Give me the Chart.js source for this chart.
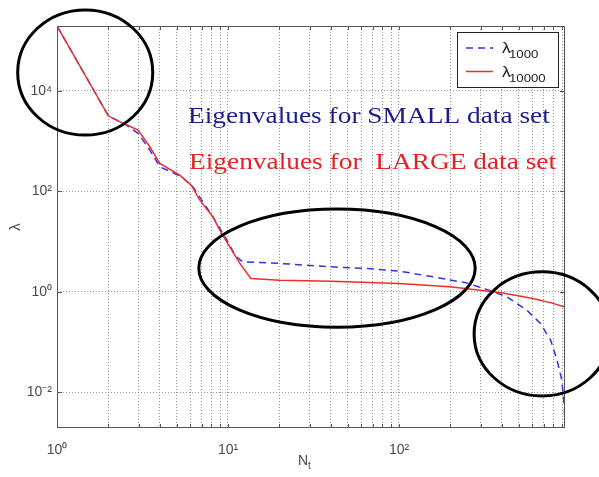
<!DOCTYPE html>
<html>
<head>
<meta charset="utf-8">
<script src="https://cdn.jsdelivr.net/npm/chart.js@4.4.0/dist/chart.umd.min.js"></script>
<style>
	html, body { margin: 0; padding: 0; background: #fff; }
	#wrap { width: 599px; height: 477px; }
</style>
</head>
<body>
<div id="wrap"><canvas id="eigChart" width="599" height="477"></canvas></div>
<script>
// eigenvalue spectra (log-log)
const xSmall = [1, 2, 2.49, 2.98, 3.49, 3.99, 4.77, 5.35, 6.23, 8.17, 9.85, 11.1, 12.2, 20.1, 39.5, 65, 101, 158, 248, 325, 427, 560, 672, 771, 840, 896, 927, 935];
const ySmall = [196000, 3160, 2190, 1430, 665, 309, 235, 195, 124, 31, 10.7, 5.1, 3.96, 3.68, 3.15, 2.92, 2.58, 1.99, 1.51, 1.12, 0.80, 0.43, 0.234, 0.109, 0.0436, 0.0174, 0.0051, 0.00195];
const xLarge = [1, 2, 2.49, 2.98, 3.49, 3.99, 5.22, 6.1, 6.84, 8.17, 8.96, 9.85, 11.7, 13.6, 20, 40, 100, 198, 389, 608, 796, 935];
const yLarge = [196000, 3160, 2190, 1660, 773, 361, 211, 133, 67, 31, 16.9, 9.8, 3.73, 1.85, 1.71, 1.63, 1.47, 1.26, 0.97, 0.74, 0.59, 0.50];

const seriesNames = [['λ', '1000'], ['λ', '10000']];
const noteLines = ['Eigenvalues for SMALL data set', 'Eigenvalues for  LARGE data set'];

const xRange = [1, 935];
const yRange = [0.00195, 196000];
const xTickValues = [1, 2, 3, 4, 5, 6, 7, 8, 9, 10, 20, 30, 40, 50, 60, 70, 80, 90, 100, 200, 300, 400, 500, 600, 700, 800, 900];
const xLabelValues = [1, 10, 100];
const xLabelText = ['10⁰', '10¹', '10²'];
const yTickValues = [0.01, 1, 100, 10000];
const yLabelText = ['10⁻²', '10⁰', '10²', '10⁴'];

const BLUE = 'rgb(50, 50, 225)';
const RED = 'rgb(240, 45, 45)';
const AXIS_GREY = '#4a4a4a';

const toPoints = (xs, ys) => xs.map((x, i) => ({ x: x, y: ys[i] }));

// the source picture is a little wider than tall, text looks stretched
function wideText(ctx, text, x, y, sx) {
	ctx.save();
	ctx.translate(x, y);
	ctx.scale(sx, 1);
	ctx.fillText(text, 0, 0);
	ctx.restore();
}

// frame, inward ticks, legend box, notes, circled regions
const decorPlugin = {
	id: 'decor',
	afterDraw(chart) {
		const ctx = chart.ctx;
		const ca = chart.chartArea;
		const xs = chart.scales.x;
		const ys = chart.scales.y;

		ctx.save();
		// frame
		ctx.strokeStyle = '#555';
		ctx.lineWidth = 1;
		ctx.strokeRect(ca.left + 0.5, ca.top + 0.5, ca.right - ca.left - 1, ca.bottom - ca.top - 1);

		// inward ticks
		ctx.beginPath();
		xTickValues.forEach(v => {
			const px = Math.round(xs.getPixelForValue(v)) + 0.5;
			ctx.moveTo(px, ca.bottom);
			ctx.lineTo(px, ca.bottom - 4);
			ctx.moveTo(px, ca.top);
			ctx.lineTo(px, ca.top + 4);
		});
		yTickValues.forEach(v => {
			const py = Math.round(ys.getPixelForValue(v)) + 0.5;
			ctx.moveTo(ca.left, py);
			ctx.lineTo(ca.left + 5, py);
			ctx.moveTo(ca.right, py);
			ctx.lineTo(ca.right - 5, py);
		});
		ctx.stroke();

		// annotation text
		ctx.font = '23px "Liberation Serif", "Times New Roman", serif';
		ctx.textBaseline = 'alphabetic';
		ctx.textAlign = 'left';
		ctx.fillStyle = '#1c1c8c';
		wideText(ctx, noteLines[0], ca.left + 131, ca.top + 97, 1.19);
		ctx.fillStyle = '#e42222';
		wideText(ctx, noteLines[1], ca.left + 132, ca.top + 143, 1.19);

		// legend
		const lx = ca.right - 108, ly = ca.top + 6, lw = 101, lh = 55;
		ctx.fillStyle = '#fff';
		ctx.fillRect(lx, ly, lw, lh);
		ctx.strokeStyle = '#222';
		ctx.lineWidth = 1;
		ctx.strokeRect(lx + 0.5, ly + 0.5, lw, lh);
		chart.data.datasets.forEach((ds, i) => {
			const rowY = ly + 16 + i * 23.5;
			ctx.strokeStyle = ds.borderColor;
			ctx.lineWidth = 1.5;
			ctx.setLineDash(ds.borderDash || []);
			ctx.beginPath();
			ctx.moveTo(lx + 9, rowY);
			ctx.lineTo(lx + 36, rowY);
			ctx.stroke();
			ctx.setLineDash([]);
			ctx.fillStyle = '#222';
			ctx.font = '15px "Liberation Sans", Arial, sans-serif';
			wideText(ctx, seriesNames[i][0], lx + 45, rowY + 5, 1.15);
			ctx.font = '11px "Liberation Sans", Arial, sans-serif';
			wideText(ctx, seriesNames[i][1], lx + 52, rowY + 10, 1.2);
		});

		// x axis title N_t
		ctx.fillStyle = AXIS_GREY;
		ctx.font = '14px "Liberation Sans", Arial, sans-serif';
		ctx.fillText('N', ca.left + 241, ca.bottom + 37);
		ctx.font = '10px "Liberation Sans", Arial, sans-serif';
		ctx.fillText('t', ca.left + 251, ca.bottom + 41);

		// circled regions, bounds in data units
		const rings = chart.options.plugins.decor.rings;
		ctx.strokeStyle = '#000';
		ctx.lineWidth = 3;
		rings.forEach(r => {
			const x0 = xs.getPixelForValue(r.x[0]);
			const x1 = xs.getPixelForValue(r.x[1]);
			const y0 = ys.getPixelForValue(r.y[0]);
			const y1 = ys.getPixelForValue(r.y[1]);
			ctx.beginPath();
			ctx.ellipse((x0 + x1) / 2, (y0 + y1) / 2, Math.abs(x1 - x0) / 2, Math.abs(y1 - y0) / 2, 0, 0, Math.PI * 2);
			ctx.stroke();
		});
		ctx.restore();
	}
};

const chartCanvas = document.getElementById('eigChart');
new Chart(chartCanvas.getContext('2d'), {
	type: 'line',
	data: {
		datasets: [
			{
				label: 'λ1000',
				data: toPoints(xSmall, ySmall),
				borderColor: BLUE,
				borderWidth: 1.5,
				borderDash: [7, 5],
				pointRadius: 0,
				tension: 0,
				fill: false,
				order: 1
			},
			{
				label: 'λ10000',
				data: toPoints(xLarge, yLarge),
				borderColor: RED,
				borderWidth: 1.5,
				pointRadius: 0,
				tension: 0,
				fill: false,
				order: 0
			}
		]
	},
	options: {
		responsive: false,
		animation: false,
		layout: { padding: { top: 26, right: 34, left: 0, bottom: 0 } },
		plugins: {
			legend: { display: false },
			tooltip: { enabled: false },
			decor: {
				rings: [
					{ x: [0.589, 3.63], y: [1320, 410000] },
					{ x: [6.75, 279], y: [0.198, 44.4] },
					{ x: [275, 1718], y: [0.00848, 2.5] }
				]
			}
		},
		scales: {
			x: {
				type: 'logarithmic',
				min: xRange[0],
				max: xRange[1],
				afterBuildTicks: s => { s.ticks = xTickValues.map(v => ({ value: v })); },
				afterFit: s => { s.height = 49; },
				grid: { color: '#9a9a9a', lineWidth: 1, drawTicks: false },
				border: { display: false, dash: [1, 2] },
				ticks: {
					autoSkip: false,
					maxRotation: 0,
					padding: 14,
					color: AXIS_GREY,
					font: { family: '"Liberation Sans", Arial, sans-serif', size: 14 },
					callback: v => {
						const k = xLabelValues.indexOf(v);
						return k >= 0 ? xLabelText[k] : '';
					}
				}
			},
			y: {
				type: 'logarithmic',
				min: yRange[0],
				max: yRange[1],
				afterBuildTicks: s => { s.ticks = yTickValues.map(v => ({ value: v })); },
				afterFit: s => { s.width = 57; },
				grid: { color: '#9a9a9a', lineWidth: 1, drawTicks: false },
				border: { display: false, dash: [1, 2] },
				title: {
					display: true,
					text: 'λ',
					color: AXIS_GREY,
					padding: { top: 7, bottom: 0 },
					font: { family: '"Liberation Sans", Arial, sans-serif', size: 15 }
				},
				ticks: {
					padding: 5,
					color: AXIS_GREY,
					font: { family: '"Liberation Sans", Arial, sans-serif', size: 14 },
					callback: v => {
						const k = yTickValues.indexOf(v);
						return k >= 0 ? yLabelText[k] : '';
					}
				}
			}
		}
	},
	plugins: [decorPlugin]
});
</script>
</body>
</html>
